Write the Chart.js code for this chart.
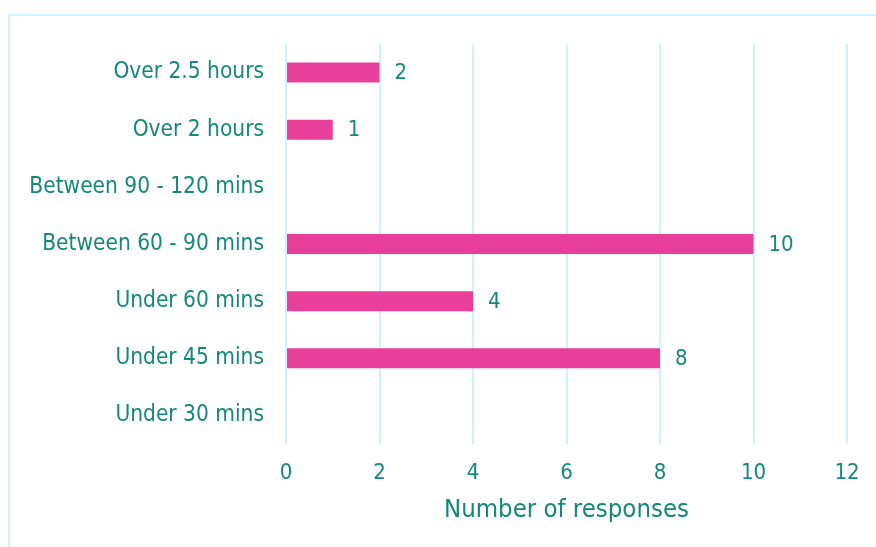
<!DOCTYPE html>
<html><head><meta charset="utf-8">
<script src="https://cdn.jsdelivr.net/npm/chart.js@4/dist/chart.umd.min.js"></script>
<style>
html,body{margin:0;padding:0;background:#fff;overflow:hidden}
#frame{position:absolute;left:8px;top:14px;width:1000px;height:700px;border-top:2px solid #cdf1fd;border-left:2px solid #cdf1fd}
#wrap{position:absolute;left:0;top:0;width:876px;height:547px}
</style></head><body>
<div id="frame"></div>
<div id="wrap"><canvas id="c" width="876" height="547"></canvas></div>
<script>
const categories = ["Over 2.5 hours","Over 2 hours","Between 90 - 120 mins","Between 60 - 90 mins","Under 60 mins","Under 45 mins","Under 30 mins"];
const responses = [2,1,0,10,4,8,0];
const xTicks = [0,2,4,6,8,10,12];
const axisTitle = "Number of responses";

const TEAL = "#15877b";
const FONT = "'DejaVu Sans Condensed', sans-serif";

const labelPlugin = {
  id: 'valLabels',
  afterDatasetsDraw(chart){
    const ctx = chart.ctx;
    const meta = chart.getDatasetMeta(0);
    const xs = chart.scales.x;
    ctx.save();
    ctx.fillStyle = TEAL;
    ctx.font = "22px " + FONT;
    ctx.textBaseline = "middle";
    ctx.textAlign = "left";
    meta.data.forEach((el,i)=>{
      const v = responses[i];
      if(!v) return;
      ctx.fillText(String(v), xs.getPixelForValue(v) + 15, el.y + 1);
    });
    ctx.restore();
  }
};

new Chart(document.getElementById('c'), {
  type: 'bar',
  data: { labels: categories, datasets: [{ data: responses, backgroundColor: "#e8409a", borderWidth: 0, barPercentage: 0.7, categoryPercentage: 0.5 }] },
  options: {
    indexAxis: 'y', responsive: false, animation: false,
    layout: { padding: { left: 0, right: 29, top: 44, bottom: 0 } },
    plugins: { legend: { display: false }, tooltip: { enabled: false } },
    scales: {
      x: {
        min: 0, max: 12,
        afterBuildTicks(s){ s.ticks = xTicks.map(v=>({value:v})); },
        grid: { color: "#cdf1fd", lineWidth: 2, drawTicks: false },
        border: { display: false },
        ticks: { color: TEAL, font: { family: FONT, size: 22 }, padding: 16 },
        title: { display: true, text: axisTitle, color: TEAL, font: { family: FONT, size: 25.5 }, padding: { top: 12, bottom: 21 } },
        afterFit(s){ s.height = 103; }
      },
      y: {
        grid: { display: false, drawTicks: false },
        border: { display: false },
        ticks: { color: TEAL, font: { family: FONT, size: 22.5 }, padding: 22 },
        afterFit(s){ s.width = 286; }
      }
    }
  },
  plugins: [labelPlugin]
});
</script>
</body></html>
